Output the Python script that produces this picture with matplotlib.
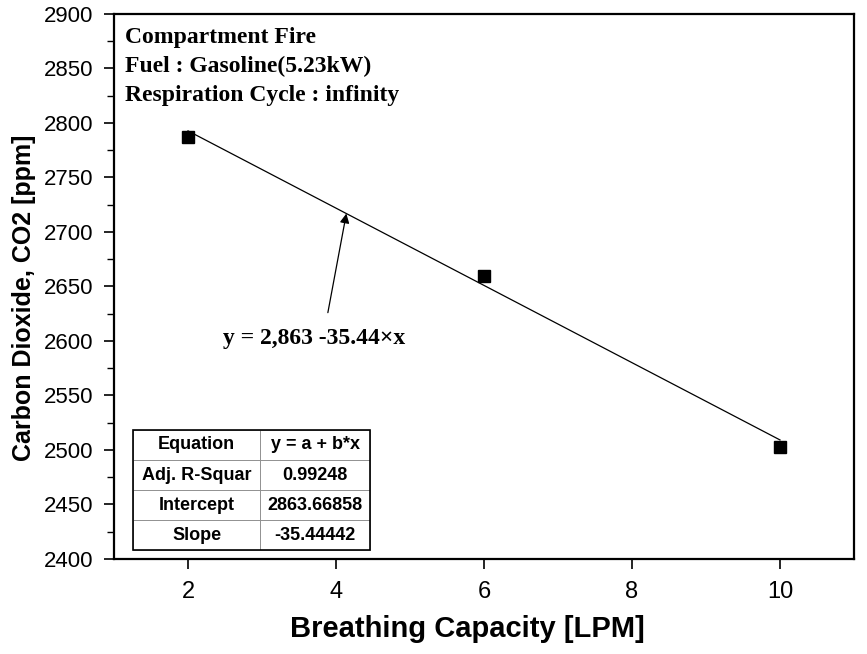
#!/usr/bin/env python3
"""CO2 concentration vs breathing capacity, compartment fire."""

import matplotlib
matplotlib.use("Agg")
import matplotlib.pyplot as plt
import numpy as np

# Measured points
capacidad = [2, 6, 10]  # LPM
co2 = [2787, 2660, 2503]  # ppm

# Linear fit (from the table)
intercepto = 2863.66858
pendiente = -35.44442
r2_ajustado = 0.99248

tabla_filas = [
    ["Equation", "y = a + b*x"],
    ["Adj. R-Squar", f"{r2_ajustado:.5f}"],
    ["Intercept", f"{intercepto:.5f}"],
    ["Slope", f"{pendiente:.5f}"],
]

sans = ["Liberation Sans", "DejaVu Sans"]
serif = ["Liberation Serif", "DejaVu Serif"]


def main():
    fig = plt.figure(figsize=(8.67, 6.54), dpi=100)
    ax = fig.add_axes([114 / 867, 1 - 559 / 654, 740 / 867, 545 / 654])

    ax.plot(capacidad, co2, 's', color='black', markersize=8, zorder=3)

    x_fit = np.array([capacidad[0], capacidad[-1]])
    ax.plot(x_fit, intercepto + pendiente * x_fit, color='black', lw=0.9)

    ax.set_xlim(1, 11)
    ax.set_ylim(2400, 2900)
    ax.set_xticks([2, 4, 6, 8, 10])
    ax.set_yticks(np.arange(2400, 2901, 50))
    ax.set_yticks(np.arange(2425, 2900, 50), minor=True)
    ax.tick_params(axis='both', which='major', direction='out', length=7,
                   width=1.2)
    ax.tick_params(axis='y', which='major', labelsize=16, pad=8)
    ax.tick_params(axis='x', which='major', labelsize=17, pad=9)
    ax.tick_params(axis='y', which='minor', direction='out', length=5, width=1.0)
    for lab in ax.get_xticklabels() + ax.get_yticklabels():
        lab.set_family(sans)
    for s in ax.spines.values():
        s.set_linewidth(1.6)

    ax.set_xlabel("Breathing Capacity [LPM]", family=sans, fontsize=21,
                  fontweight='bold')
    ax.xaxis.set_label_coords(0.477, -0.128)
    ax.xaxis.label.set_va('center')
    ax.set_ylabel("Carbon Dioxide, CO2 [ppm]", family=sans, fontsize=18,
                  fontweight='bold')
    ax.yaxis.set_label_coords(-0.122, 0.48)
    ax.yaxis.label.set_va('center')

    ax.text(0.015, 0.977,
            "Compartment Fire\nFuel : Gasoline(5.23kW)\nRespiration Cycle : infinity",
            transform=ax.transAxes, ha='left', va='top', family=serif,
            fontsize=17, fontweight='bold', linespacing=1.5)

    # Arrow pointing at the fit line
    x_punta = 4.14
    ax.annotate("", xy=(x_punta, intercepto + pendiente * x_punta),
                xytext=(3.89, 2626),
                arrowprops=dict(arrowstyle='-|>', color='black', lw=0.9,
                                mutation_scale=14, shrinkA=0, shrinkB=0))
    ax.text(3.70, 2602, "y = 2,863 -35.44×x", ha='center', va='center',
            family=serif, fontsize=17, fontweight='bold')

    tabla = ax.table(cellText=tabla_filas, cellLoc='center',
                     colWidths=[0.536, 0.464],
                     bbox=[0.0257, 0.0165, 0.3203, 0.2202])
    tabla.auto_set_font_size(False)
    for (r, c), celda in tabla.get_celld().items():
        celda.set_edgecolor('#888888')
        celda.set_linewidth(0.6)
        celda.get_text().set_fontsize(13)
        celda.get_text().set_fontweight('bold')
        celda.get_text().set_family(sans)
    # outer black border of the table
    ax.add_patch(plt.Rectangle((0.0257, 0.0165), 0.3203, 0.2202,
                               transform=ax.transAxes, fill=False,
                               edgecolor='black', lw=1.2, zorder=5))

    fig.savefig("out.png", dpi=100)


if __name__ == "__main__":
    main()
